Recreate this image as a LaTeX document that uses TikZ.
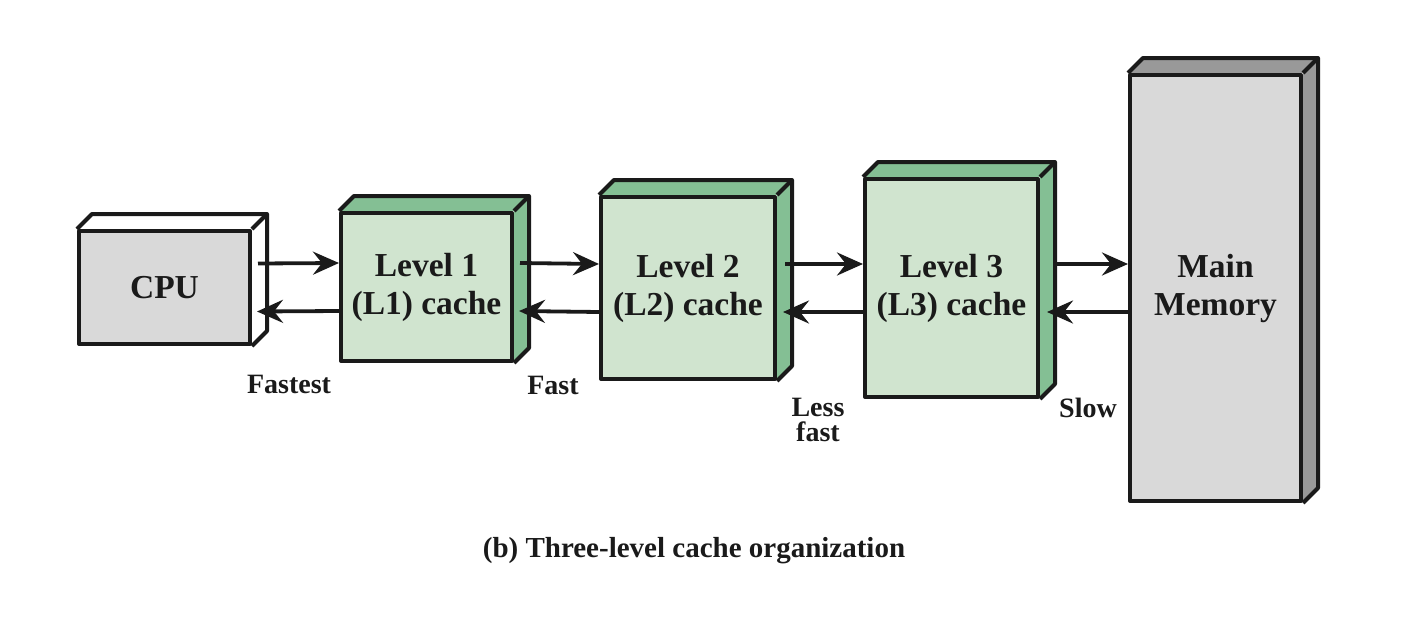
\documentclass[tikz,border=0pt]{standalone}
\usepackage{fontspec}
\setmainfont{Liberation Serif}
\usetikzlibrary{arrows.meta,backgrounds}
\definecolor{greenfront}{HTML}{D0E4CF}
\definecolor{greenside}{HTML}{84BF94}
\definecolor{grayfront}{HTML}{D9D9D9}
\definecolor{grayside}{HTML}{999999}
\definecolor{ink}{HTML}{1A1A1A}
\tikzset{
  face/.style={draw=ink, line width=4pt, line join=round, inner sep=0pt, align=center,
    font=\bfseries\fontsize{33.5}{38}\selectfont, text=ink},
  greenbox/.style={face, fill=greenfront},
  graybox/.style={face, fill=grayfront},
  depth/.style={draw=ink, line width=4pt, line join=round},
  arr/.style={draw=ink, line width=3.8pt, -{Stealth[length=26pt,width=23pt,inset=9pt]}},
  lbl/.style={font=\bfseries\fontsize{28}{25}\selectfont, text=ink, align=center, inner sep=0pt},
  captionlbl/.style={font=\bfseries\fontsize{29}{33}\selectfont, text=ink, inner sep=0pt}
}
\newcommand{\boxdepth}[3]{%
  \fill[#2] (#1.north west) -- ++(15,-15) -- ([shift={(15,-15)}]#1.north east) -- (#1.north east) -- cycle;
  \fill[#3] (#1.north east) -- ++(15,-15) -- ([shift={(15,-15)}]#1.south east) -- (#1.south east) -- cycle;
  \draw[depth] (#1.north west) -- ++(15,-15) -- ([shift={(15,-15)}]#1.north east) -- ([shift={(15,-15)}]#1.south east) -- (#1.south east);
  \draw[depth] (#1.north east) -- ++(15,-15);
}
\begin{document}
\begin{tikzpicture}[x=1pt,y=-1pt]
\useasboundingbox (0,0) rectangle (1406,616);
\node[graybox, minimum width=171pt, minimum height=113pt] (cpu) at (164.5,287.5) {CPU};
\node[greenbox, minimum width=171pt, minimum height=148pt] (l1) at (426.5,287) {Level 1\\(L1) cache};
\node[greenbox, minimum width=174pt, minimum height=182pt] (l2) at (688,288) {Level 2\\(L2) cache};
\node[greenbox, minimum width=173pt, minimum height=218pt] (l3) at (951.5,288) {Level 3\\(L3) cache};
\node[graybox, minimum width=171pt, minimum height=426pt] (mem) at (1215.5,288) {Main\\Memory};
\begin{scope}[on background layer]
\boxdepth{cpu}{white}{white}
\boxdepth{l1}{greenside}{greenside}
\boxdepth{l2}{greenside}{greenside}
\boxdepth{l3}{greenside}{greenside}
\boxdepth{mem}{grayside}{grayside}
\end{scope}
% arrows
\draw[arr] ([xshift=6pt,yshift=24pt]cpu.east) -- ([yshift=24pt]l1.west);
\draw[arr] ([yshift=-24pt]l1.west) -- ([xshift=5pt,yshift=-24pt]cpu.east);
\draw[arr] ([xshift=6pt,yshift=24pt]l1.east) -- ([yshift=24pt]l2.west);
\draw[arr] ([yshift=-24pt]l2.west) -- ([xshift=5pt,yshift=-24pt]l1.east);
\draw[arr] ([xshift=8pt,yshift=24pt]l2.east) -- ([yshift=24pt]l3.west);
\draw[arr] ([yshift=-24pt]l3.west) -- ([xshift=6pt,yshift=-24pt]l2.east);
\draw[arr] ([xshift=13pt,yshift=24pt]l3.east) -- ([yshift=24pt]mem.west);
\draw[arr] ([yshift=-24pt]mem.west) -- ([xshift=7pt,yshift=-24pt]l3.east);
% labels
\node[lbl] (fastest) at (289,384) {Fastest};
\node[lbl] (fast) at (553,385) {Fast};
\node[lbl] (lessfast) at (818,420) {Less\\fast};
\node[lbl] (slow) at (1088,408) {Slow};
\node[captionlbl] (caption) at (694,551) {(b) Three-level cache organization};
\end{tikzpicture}
\end{document}
